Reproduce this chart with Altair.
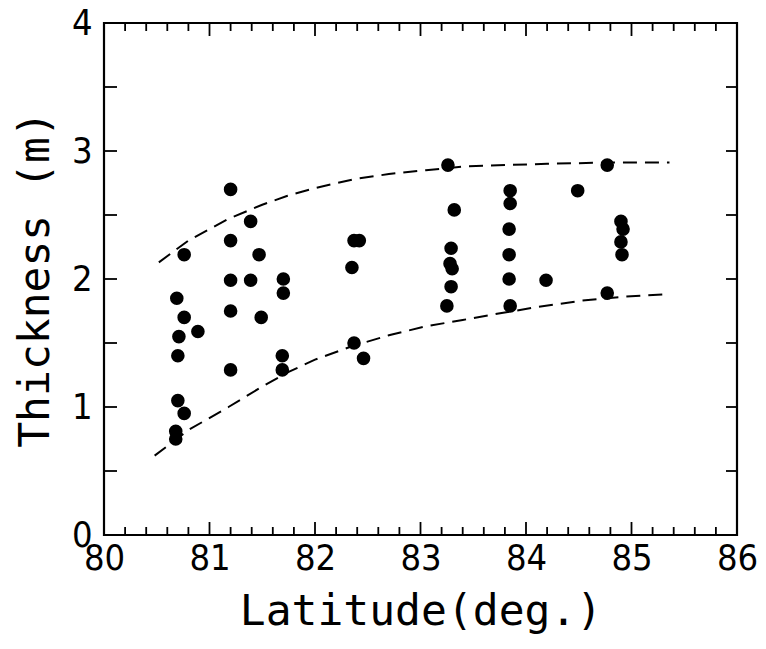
import altair as alt
import pandas as pd

# Measured points (latitude in degrees, thickness in m)
lat = [81.20, 81.39, 81.20, 81.47, 80.76, 81.20, 81.39, 81.70, 81.70, 80.69,
       81.20, 81.49, 80.76, 80.89, 80.71, 80.70, 81.69, 81.69, 81.20, 80.70,
       80.76, 80.68, 80.68, 83.26, 83.32, 82.37, 82.42, 82.35, 83.29, 83.28,
       83.30, 83.29, 83.25, 82.37, 82.46, 84.77, 83.85, 83.85, 84.49, 83.84,
       83.84, 83.84, 84.19, 83.85, 84.77, 84.90, 84.92, 84.90, 84.91]
thick = [2.70, 2.45, 2.30, 2.19, 2.19, 1.99, 1.99, 2.00, 1.89, 1.85,
         1.75, 1.70, 1.70, 1.59, 1.55, 1.40, 1.40, 1.29, 1.29, 1.05,
         0.95, 0.81, 0.75, 2.89, 2.54, 2.30, 2.30, 2.09, 2.24, 2.12,
         2.08, 1.94, 1.79, 1.50, 1.38, 2.89, 2.69, 2.59, 2.69, 2.39,
         2.19, 2.00, 1.99, 1.79, 1.89, 2.45, 2.39, 2.29, 2.19]

# Dashed envelope curves
upper_lat = [80.52, 80.8, 81.18, 81.5, 81.74, 82.0, 82.37, 82.7, 83.05, 83.43, 83.8, 84.2, 84.8, 85.36]
upper_th = [2.13, 2.30, 2.47, 2.58, 2.65, 2.71, 2.78, 2.82, 2.85, 2.88, 2.89, 2.90, 2.91, 2.91]
lower_lat = [80.48, 80.8, 81.18, 81.5, 81.74, 82.0, 82.37, 82.7, 83.05, 83.4, 83.74, 84.1, 84.52, 84.9, 85.3]
lower_th = [0.62, 0.82, 1.00, 1.16, 1.27, 1.37, 1.48, 1.56, 1.63, 1.68, 1.73, 1.78, 1.83, 1.86, 1.88]

# Tick values
x_labels = [80, 81, 82, 83, 84, 85, 86]
x_minor = [80.2, 80.4, 80.6, 80.8, 81.2, 81.4, 81.6, 81.8, 82.2, 82.4, 82.6, 82.8,
           83.2, 83.4, 83.6, 83.8, 84.2, 84.4, 84.6, 84.8, 85.2, 85.4, 85.6, 85.8]
x_major = [81, 82, 83, 84, 85]
y_labels = [0, 1, 2, 3, 4]
y_ticks = [0.5, 1.0, 1.5, 2.0, 2.5, 3.0, 3.5]

W, H = 633, 512
NUM_FONT = "'DejaVu Sans Condensed', 'Liberation Sans Narrow', 'Liberation Sans', sans-serif"
TITLE_FONT = "DejaVu Sans Mono"

xs = alt.Scale(domain=[80, 86], nice=False, zero=False)
ys = alt.Scale(domain=[0, 4], nice=False, zero=True)

pts = pd.DataFrame({"lat": lat, "thick": thick})
up = pd.DataFrame({"lat": upper_lat, "thick": upper_th})
lo = pd.DataFrame({"lat": lower_lat, "thick": lower_th})
xmin = pd.DataFrame({"lat": x_minor})
xmaj = pd.DataFrame({"lat": x_major})
ytk = pd.DataFrame({"thick": y_ticks})

points = alt.Chart(pts).mark_circle(color="black", opacity=1, size=185).encode(
    x=alt.X("lat:Q", scale=xs,
            axis=alt.Axis(values=x_labels, format="d", ticks=False, domain=False, grid=False,
                          labelFont=NUM_FONT, labelFontSize=36, labelColor="black",
                          labelPadding=6, labelFlush=False, title="Latitude(deg.)",
                          titleFont=TITLE_FONT, titleFontSize=43, titleFontWeight="normal",
                          titleColor="black", titlePadding=14)),
    y=alt.Y("thick:Q", scale=ys,
            axis=alt.Axis(values=y_labels, format="d", ticks=False, domain=False, grid=False,
                          labelFont=NUM_FONT, labelFontSize=36, labelColor="black",
                          labelPadding=12, labelFlush=False, title="Thickness (m)",
                          titleFont=TITLE_FONT, titleFontSize=43, titleFontWeight="normal",
                          titleColor="black", titlePadding=14)),
)

dash = dict(color="black", strokeDash=[14, 8], strokeWidth=2)
upper = alt.Chart(up).mark_line(**dash).encode(x=alt.X("lat:Q", scale=xs), y=alt.Y("thick:Q", scale=ys))
lower = alt.Chart(lo).mark_line(**dash).encode(x=alt.X("lat:Q", scale=xs), y=alt.Y("thick:Q", scale=ys))

tk = dict(color="black", strokeWidth=1.8)
bot_minor = alt.Chart(xmin).mark_rule(**tk).encode(x=alt.X("lat:Q", scale=xs), y=alt.value(H), y2=alt.value(H - 8))
bot_major = alt.Chart(xmaj).mark_rule(**tk).encode(x=alt.X("lat:Q", scale=xs), y=alt.value(H), y2=alt.value(H - 13))
top_minor = alt.Chart(xmin).mark_rule(**tk).encode(x=alt.X("lat:Q", scale=xs), y=alt.value(0), y2=alt.value(8))
top_major = alt.Chart(xmaj).mark_rule(**tk).encode(x=alt.X("lat:Q", scale=xs), y=alt.value(0), y2=alt.value(13))
left_t = alt.Chart(ytk).mark_rule(**tk).encode(y=alt.Y("thick:Q", scale=ys), x=alt.value(0), x2=alt.value(13))
right_t = alt.Chart(ytk).mark_rule(**tk).encode(y=alt.Y("thick:Q", scale=ys), x=alt.value(W), x2=alt.value(W - 11))

chart = alt.layer(
    points, upper, lower, bot_minor, bot_major, top_minor, top_major, left_t, right_t
).properties(
    width=W, height=H,
    autosize=alt.AutoSizeParams(type="none"),
    padding={"left": 96, "top": 15, "right": 21, "bottom": 105},
    background="white",
).configure_view(stroke="black", strokeWidth=2.2)

chart.save("out.html", embed_options={"renderer": "svg", "actions": False})
